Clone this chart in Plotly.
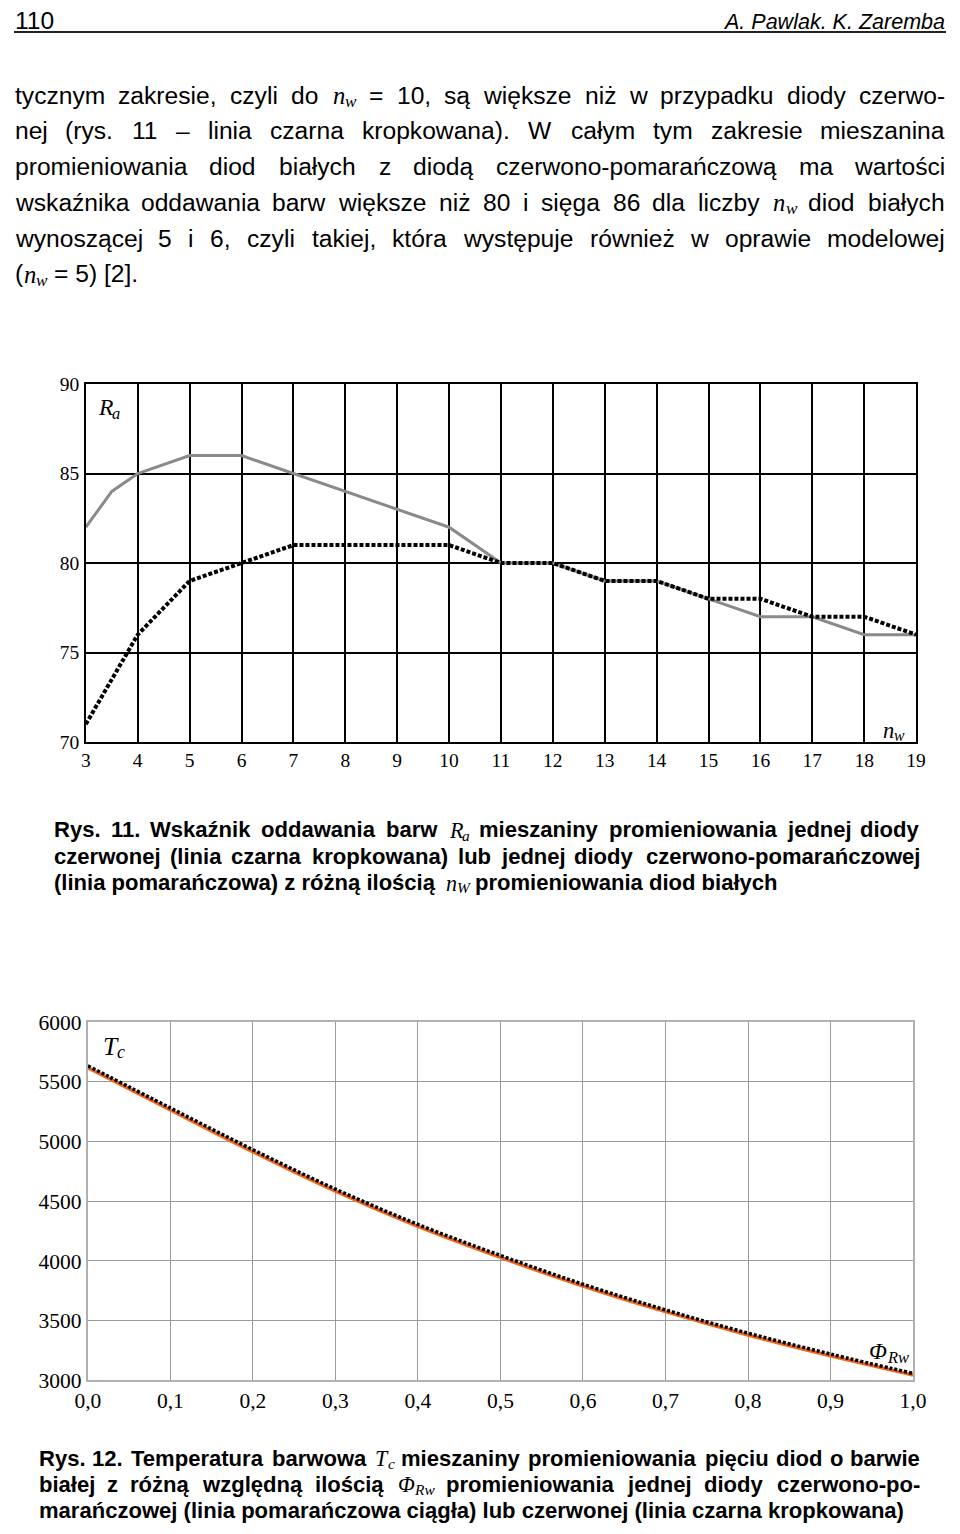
import plotly.graph_objects as go

W, H = 960, 1534

# ---------------- data ----------------
# Rys. 11 : colour rendering index Ra vs number of white diodes n_w
nw_gray = [3, 3.5, 4, 5, 6, 7, 8, 9, 10, 11, 12, 13, 14, 15, 16, 17, 18, 19]
ra_gray = [82, 84, 85, 86, 86, 85, 84, 83, 82, 80, 80, 79, 79, 78, 77, 77, 76, 76]
nw_black = [3, 4, 5, 6, 7, 8, 9, 10, 11, 12, 13, 14, 15, 16, 17, 18, 19]
ra_black = [71, 76, 79, 80, 81, 81, 81, 81, 80, 80, 79, 79, 78, 78, 77, 77, 76]
nw_ticks = [3, 4, 5, 6, 7, 8, 9, 10, 11, 12, 13, 14, 15, 16, 17, 18, 19]
ra_ticks = [70, 75, 80, 85, 90]

# Rys. 12 : colour temperature Tc vs relative flux share Phi_Rw
phi = [0.0, 0.1, 0.2, 0.3, 0.4, 0.5, 0.6, 0.7, 0.8, 0.9, 1.0]
tc_orange = [5620, 5265, 4915, 4585, 4290, 4030, 3790, 3575, 3380, 3205, 3045]
tc_black = [5635, 5282, 4932, 4602, 4306, 4046, 3805, 3590, 3395, 3220, 3058]
phi_ticktext = ["0,0", "0,1", "0,2", "0,3", "0,4", "0,5", "0,6", "0,7", "0,8", "0,9", "1,0"]
tc_ticks = [3000, 3500, 4000, 4500, 5000, 5500, 6000]

# ---------------- text ----------------
body_lines = [
    ("tycznym zakresie, czyli do {nw} = 10, są większe niż w przypadku diody czerwo-", True),
    ("nej (rys. 11 – linia czarna kropkowana). W całym tym zakresie mieszanina", True),
    ("promieniowania diod białych z diodą czerwono-pomarańczową ma wartości", True),
    ("wskaźnika oddawania barw większe niż 80 i sięga 86 dla liczby {nw} diod białych", True),
    ("wynoszącej 5 i 6, czyli takiej, która występuje również w oprawie modelowej", True),
    ("( {nw} = 5) [2].", False),
]
cap11_lines = [
    ("Rys. 11. Wskaźnik oddawania barw {Ra} mieszaniny promieniowania jednej diody", True),
    ("czerwonej (linia czarna kropkowana) lub jednej diody czerwono-pomarańczowej", True),
    ("(linia pomarańczowa) z różną ilością {nW} promieniowania diod białych", False),
]
cap12_lines = [
    ("Rys. 12. Temperatura barwowa {Tc} mieszaniny promieniowania pięciu diod o barwie", True),
    ("białej z różną względną ilością {PhiRw} promieniowania jednej diody czerwono-po-", True),
    ("marańczowej (linia pomarańczowa ciągła) lub czerwonej (linia czarna kropkowana)", False),
]

SANS = "Liberation Sans"
SERIF = "Liberation Serif"

# the photographed page shows the figure slightly reduced inside a small white border;
# positions below are given in picture pixels and mapped back to paper fractions
SX, AX = 0.975, 12.0
SY, AY = 0.987, 10.0


def px(x):
    return (x - AX) / SX / W


def py(y):
    return 1 - (y - AY) / SY / H


def fs(size):
    return size / SX


def make_table(spec):
    t = {}
    for w, chars in spec:
        for c in chars:
            t[c] = w
    return t


AR = make_table([
    (278, " !,.:[]ftIł"), (333, "()-r"), (584, "="), (556, "0123456789abdeghnopqu–ąęńóL"),
    (500, "cksvxyzćśźżJ"), (222, "ijl"), (833, "mM"), (722, "wCDHNRU"), (667, "ABEKPSVXY"),
    (611, "FTZ"), (778, "GOQ"), (944, "W"),
])
AB = make_table([
    (278, " ,.[]ilIjł"), (333, "()-tf"), (584, "="), (556, "0123456789aceksvxyąęćśJ"),
    (611, "bdghnopquńóLFTZ"), (389, "r"), (500, "zźż"), (889, "m"), (778, "wGOQ"),
    (722, "ABCDHKNRU"), (667, "EPSVXY"), (833, "M"), (944, "W"),
])
K_REG, K_BOLD = 1.03, 1.04
TI = {"n": 500, "w": 667, "R": 611, "a": 500, "T": 556, "c": 444, "W": 833, "Φ": 760}
SPECIAL = {"{nw}": ("n", "w"), "{nW}": ("n", "W"), "{Ra}": ("R", "a"),
           "{Tc}": ("T", "c"), "{PhiRw}": ("Φ", "Rw")}
SUB = 0.7
SUB_DROP = 0.15

annotations = []


def ann(text, x, ytop, size, family, anchor="left", italic=False, bold=False):
    if italic:
        text = f"<i>{text}</i>"
    if bold:
        text = f"<b>{text}</b>"
    annotations.append(dict(
        text=text, x=px(x), y=py(ytop), xref="paper", yref="paper",
        xanchor=anchor, yanchor="top", showarrow=False, borderpad=0,
        font=dict(family=family, size=fs(size), color="black")))


def txt_width(s, bold, size):
    table, k = (AB, K_BOLD) if bold else (AR, K_REG)
    return sum(table.get(c, 556) for c in s) / 1000.0 * size * k


def spec_width(key, size):
    m, s = SPECIAL[key]
    return (sum(TI[c] for c in m) + SUB * sum(TI[c] for c in s)) / 1000.0 * size * 1.03


def draw_special(key, x, baseline, size):
    """italic serif symbol with a smaller subscript drawn as its own text"""
    m, s = SPECIAL[key]
    mw = sum(TI[c] for c in m) / 1000.0 * size * 1.03
    ann(m, x, baseline - 0.891 * size, size, SERIF, italic=True)
    ssize = SUB * size
    ann(s, x + mw, baseline + SUB_DROP * size - 0.891 * ssize, ssize, SERIF, italic=True)


def add_line(text, x0, x1, baseline, size, bold, justify):
    words = text.split(" ")
    widths = [spec_width(w, size) if w in SPECIAL else txt_width(w, bold, size) for w in words]
    ytop = baseline - 0.905 * size
    if justify:
        gap = (x1 - x0 - sum(widths)) / (len(words) - 1)
        x = x0
        n = len(words)
        for i, (w, wd) in enumerate(zip(words, widths)):
            if w in SPECIAL:
                draw_special(w, x, baseline, size)
            elif i == 0:
                ann(w, x, ytop, size, SANS, "left", bold=bold)
            elif i == n - 1:
                ann(w, x1, ytop, size, SANS, "right", bold=bold)
            else:
                ann(w, x + wd / 2, ytop, size, SANS, "center", bold=bold)
            x += wd + gap
    else:
        runs, cur = [], []
        for w in words:
            if w in SPECIAL:
                if cur:
                    runs.append(("t", " ".join(cur)))
                    cur = []
                runs.append(("s", w))
            else:
                cur.append(w)
        if cur:
            runs.append(("t", " ".join(cur)))
        space = (AB if bold else AR)[" "] / 1000.0 * size
        x = x0
        for kind, r in runs:
            if kind == "s":
                draw_special(r, x, baseline, size)
                x += spec_width(r, size) + space
            else:
                ann(r, x, ytop, size, SANS, bold=bold)
                x += txt_width(r, bold, size) + (space if r != "(" else 0.5)


# body text (justified)
for i, (t, j) in enumerate(body_lines):
    add_line(t, 13, 947, 101.7 + 35.8 * i, 24, False, j)

# captions (bold)
for i, (t, j) in enumerate(cap11_lines):
    add_line(t, 52, 922, 837 + 26.5 * i, 21.5, True, j)
for i, (t, j) in enumerate(cap12_lines):
    add_line(t, 37, 922, 1467 + 26.2 * i, 21.5, True, j)

# page header
ann("110", 13, 26.5 - 0.905 * 24, 24, SANS)
ann("A. Pawlak. K. Zaremba", 947, 26.5 - 0.905 * 21, 21, SANS, "right", italic=True)

# labels inside the charts
draw_special("{Ra}", 96, 414, 23)
draw_special("{nw}", 883, 737, 22)
draw_special("{Tc}", 101, 1055, 25)
draw_special("{PhiRw}", 869, 1360, 23)

# ---------------- figure ----------------
fig = go.Figure()
fig.add_trace(go.Scatter(x=nw_gray, y=ra_gray, mode="lines", xaxis="x", yaxis="y",
                         line=dict(color="#8a8a8a", width=3)))
fig.add_trace(go.Scatter(x=nw_black, y=ra_black, mode="lines", xaxis="x", yaxis="y",
                         line=dict(color="black", width=4, dash="4px,2px")))
fig.add_trace(go.Scatter(x=phi, y=tc_orange, mode="lines", xaxis="x2", yaxis="y2",
                         line=dict(color="#f06a1e", width=3.5, shape="spline")))
fig.add_trace(go.Scatter(x=phi, y=tc_black, mode="lines", xaxis="x2", yaxis="y2",
                         line=dict(color="black", width=3.5, dash="3px,2px", shape="spline")))

top_font = dict(family=SERIF, size=fs(19), color="black")
bot_font = dict(family=SERIF, size=fs(21), color="black")

fig.update_layout(
    width=W, height=H, margin=dict(l=0, r=0, t=0, b=0),
    paper_bgcolor="white", plot_bgcolor="white", showlegend=False,
    xaxis=dict(domain=[px(85), px(917)], range=[3, 19], anchor="y",
               tickmode="array", tickvals=nw_ticks, ticktext=[str(v) for v in nw_ticks],
               showgrid=True, gridcolor="black", gridwidth=1.5, zeroline=False,
               showline=True, mirror=True, linecolor="black", linewidth=1.5,
               ticks="", tickfont=top_font, ticklabelstandoff=0),
    yaxis=dict(domain=[py(743), py(384)], range=[70, 90], anchor="x",
               tickmode="array", tickvals=ra_ticks, ticktext=[str(v) for v in ra_ticks],
               showgrid=True, gridcolor="black", gridwidth=1.5, zeroline=False,
               showline=True, mirror=True, linecolor="black", linewidth=1.5,
               ticks="", tickfont=top_font, ticklabelstandoff=1),
    xaxis2=dict(domain=[px(87), px(914)], range=[0, 1], anchor="y2",
                tickmode="array", tickvals=phi, ticktext=phi_ticktext,
                showgrid=True, gridcolor="#9a9a9a", gridwidth=1, zeroline=False,
                showline=True, mirror=True, linecolor="#b0b0b0", linewidth=2,
                ticks="", tickfont=bot_font, ticklabelstandoff=0),
    yaxis2=dict(domain=[py(1383), py(1024)], range=[3000, 6000], anchor="x2",
                tickmode="array", tickvals=tc_ticks, ticktext=[str(v) for v in tc_ticks],
                showgrid=True, gridcolor="#9a9a9a", gridwidth=1, zeroline=False,
                showline=True, mirror=True, linecolor="#b0b0b0", linewidth=2,
                ticks="", tickfont=bot_font, ticklabelstandoff=0),
    annotations=annotations,
    shapes=[dict(type="line", xref="paper", yref="paper", x0=px(13), x1=px(947),
                 y0=py(31), y1=py(31), line=dict(color="#222222", width=2))],
)

fig.write_html("out.html")
